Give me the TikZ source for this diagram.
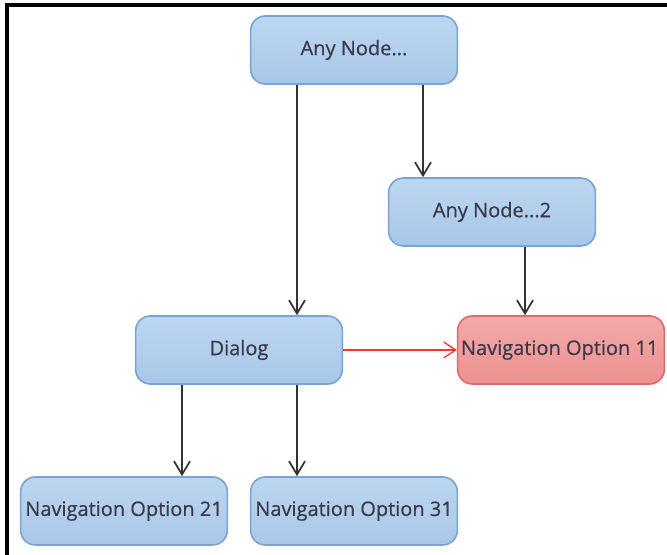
\documentclass[tikz,border=0pt]{standalone}
\usepackage{fontspec}
\setmainfont{Open Sans}[FakeBold=0.6]
\usetikzlibrary{arrows.meta}
\definecolor{bluefillT}{HTML}{BCD6F0}
\definecolor{bluefillB}{HTML}{A8C7E8}
\definecolor{blueedge}{HTML}{78A4D4}
\definecolor{redfillT}{HTML}{F4A9A9}
\definecolor{redfillB}{HTML}{EC9090}
\definecolor{rededge}{HTML}{E06868}
\definecolor{txt}{HTML}{3A3A4A}
\definecolor{arr}{HTML}{333333}
\begin{document}
\begin{tikzpicture}[x=0.75pt,y=-0.75pt,
  box/.style={rectangle,rounded corners=11pt,minimum width=155pt,minimum height=51pt,
    draw=blueedge,line width=1.2pt,top color=bluefillT,bottom color=bluefillB,
    text=txt,font=\fontsize{15}{17}\selectfont,inner sep=0pt},
  redbox/.style={box,draw=rededge,top color=redfillT,bottom color=redfillB},
  conn/.style={draw=arr,line width=1.6pt,-{Straight Barb[length=10pt,width=12pt,line width=1.3pt]}},
  redconn/.style={draw=red!80!white,line width=1pt,-{Straight Barb[length=9pt,width=12pt,line width=1pt]}},
  frame/.style={line width=2.6pt,black}]
\useasboundingbox (0,0) rectangle (667,555);
\coordinate (ftl) at (7,5);
\coordinate (ftr) at (667,5);
\coordinate (fbl) at (7,555);
\draw[frame] (fbl) -- (ftl) -- (ftr);
\node[box] (any1) at (354,50) {Any Node...};
\node[box] (any2) at (492,212) {Any Node...2};
\node[box] (dlg) at (239,350) {Dialog};
\node[redbox] (nav11) at (561,350) {\hspace*{-2pt}Navigation Option 11};
\node[box] (nav21) at (124,511) {Navigation Option 21};
\node[box] (nav31) at (354,511) {Navigation Option 31};
\draw[conn] (any1.south -| 297,0) -- (dlg.north -| 297,0);
\draw[conn] (any1.south -| 423,0) -- (any2.north -| 423,0);
\draw[conn] (any2.south -| 525,0) -- (nav11.north -| 525,0);
\draw[conn] (dlg.south -| 182,0) -- (nav21.north -| 182,0);
\draw[conn] (dlg.south -| 297,0) -- (nav31.north -| 297,0);
\draw[redconn] (dlg.east) -- (nav11.west);
\end{tikzpicture}
\end{document}
